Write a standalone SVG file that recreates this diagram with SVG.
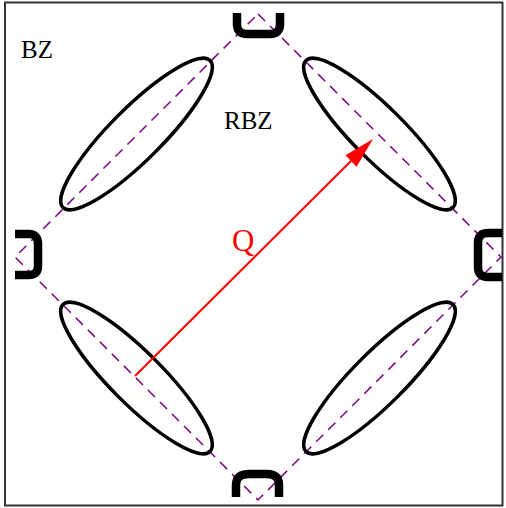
<svg xmlns="http://www.w3.org/2000/svg" width="506" height="508" viewBox="0 0 506 508">
<style>
.lbl{font-family:"Liberation Serif","Times New Roman",serif;font-size:25px;fill:#000}
.q{font-family:"Liberation Serif","Times New Roman",serif;font-size:31px;fill:#ff0000}
.pocket{fill:none;stroke:#000;stroke-width:8.5;stroke-linejoin:round}
.ell{fill:none;stroke:#000;stroke-width:3.5}
.zone{fill:none;stroke:#800080;stroke-width:1.5;stroke-dasharray:10 7}
</style>
<rect x="0" y="0" width="506" height="508" fill="#fff"/>
<rect id="frame" x="5" y="2.5" width="497.5" height="503" fill="none" stroke="#333" stroke-width="2"/>
<g id="rbz-boundary">
<polygon class="zone" points="258,14 501,257 258,500 15,257"/>
</g>
<g id="pocket-top"><path class="pocket" d="M237,13 L237,24 Q237,34 247,34 L270,34 Q280,34 280,24 L280,13"/></g>
<g id="pocket-bottom"><path class="pocket" d="M236,497 L236,485 Q236,474 249,474 L267,474 Q279,474 279,485 L279,497"/></g>
<g id="pocket-left"><path class="pocket" d="M15,234 L29,234 Q38,234 38,244 L38,266 Q38,275 29,275 L15,275"/></g>
<g id="pocket-right"><path class="pocket" d="M502,233 L488,233 Q478,233 478,243 L478,267 Q478,277 488,277 L502,277"/></g>
<g id="ellipse-ul"><ellipse class="ell" cx="136.5" cy="134" rx="104" ry="26" transform="rotate(-45 136.5 134)"/></g>
<g id="ellipse-ur"><ellipse class="ell" cx="379.5" cy="134" rx="104" ry="26" transform="rotate(45 379.5 134)"/></g>
<g id="ellipse-ll"><ellipse class="ell" cx="136.5" cy="378" rx="104" ry="26" transform="rotate(45 136.5 378)"/></g>
<g id="ellipse-lr"><ellipse class="ell" cx="379.5" cy="378" rx="104" ry="26" transform="rotate(-45 379.5 378)"/></g>
<g id="connectors">
<line x1="135" y1="376" x2="354" y2="158" stroke="#ff0000" stroke-width="2"/>
<polygon points="373,139 356.6,166.7 345.4,155.3" fill="#ff0000"/>
</g>
<g id="labels">
<text class="lbl" x="21" y="58">BZ</text>
<text class="lbl" x="224" y="129">RBZ</text>
<text class="q" x="232" y="251">Q</text>
</g>
</svg>
